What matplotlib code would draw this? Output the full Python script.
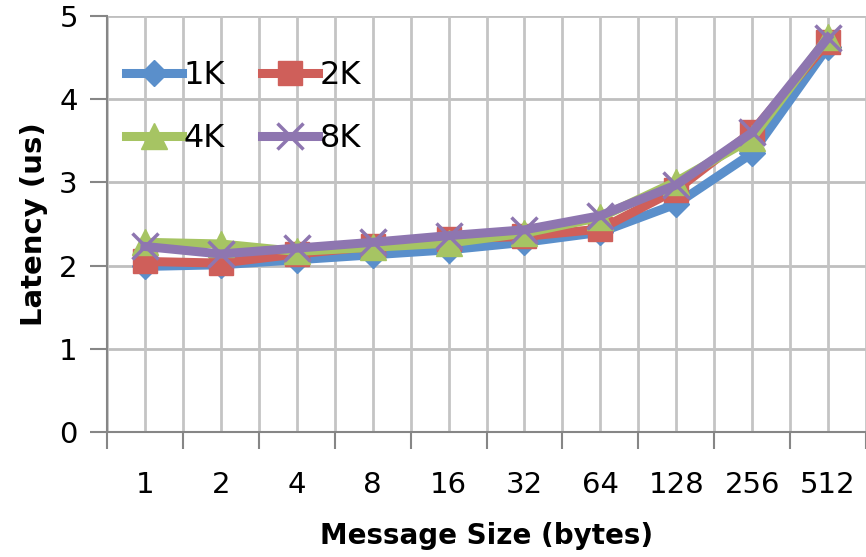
import numpy as np
import matplotlib.pyplot as plt
from matplotlib.ticker import MultipleLocator, FixedLocator

sizes = ['1', '2', '4', '8', '16', '32', '64', '128', '256', '512']
lat_1k = [1.99, 2.01, 2.07, 2.13, 2.19, 2.28, 2.40, 2.74, 3.35, 4.63]
lat_2k = [2.05, 2.03, 2.14, 2.23, 2.32, 2.35, 2.44, 2.91, 3.61, 4.69]
lat_4k = [2.28, 2.26, 2.17, 2.22, 2.27, 2.39, 2.58, 3.01, 3.53, 4.75]
lat_8k = [2.23, 2.14, 2.21, 2.28, 2.36, 2.43, 2.60, 2.97, 3.60, 4.74]

fig = plt.figure(figsize=(8.66, 5.57), dpi=100)
ax = fig.add_axes([107/866, 1-432/557, 759/866, 416/557])

x = np.arange(len(sizes))
l1, = ax.plot(x, lat_1k, color='#5A8FCB', lw=6.5, marker='D', ms=13, mec='#5A8FCB', label='1K', zorder=3)
l2, = ax.plot(x, lat_2k, color='#CF5F5A', lw=6.5, marker='s', ms=17, mec='#CF5F5A', label='2K', zorder=4)
l4, = ax.plot(x, lat_4k, color='#A6C463', lw=6.5, marker='^', ms=19, mec='#A6C463', label='4K', zorder=5)
l8, = ax.plot(x, lat_8k, color='#8E76B0', lw=6.5, marker='x', ms=19, mew=2.5, label='8K', zorder=6)

ax.set_xlim(-0.5, len(sizes) - 0.5)
ax.set_ylim(0, 5)
ax.set_xticks(x)
ax.set_xticklabels(sizes)
ax.xaxis.set_minor_locator(FixedLocator(np.arange(-0.5, len(sizes), 1.0)))
ax.yaxis.set_major_locator(MultipleLocator(1))

ax.tick_params(axis='x', which='major', length=0, pad=28, labelsize=21)
ax.tick_params(axis='x', which='minor', length=12, width=1.5, color='#868686', direction='out')
ax.tick_params(axis='y', length=12, width=1.5, color='#868686', pad=9, labelsize=21)

for xx in np.arange(-0.5, len(sizes), 0.5):
    ax.axvline(xx, color='#C4C4C4', lw=2, zorder=1)
ax.grid(axis='y', color='#BFBFBF', lw=2, zorder=1)
ax.set_axisbelow(True)

for s in ['top', 'right']:
    ax.spines[s].set_visible(False)
for s in ['left', 'bottom']:
    ax.spines[s].set_color('#868686')
    ax.spines[s].set_linewidth(1.5)

ax.set_xlabel('Message Size (bytes)', fontsize=20, fontweight='bold', labelpad=17)
ax.set_ylabel('Latency (us)', fontsize=21, fontweight='bold', labelpad=8)

ax.legend([l1, l4, l2, l8], ['1K', '4K', '2K', '8K'], ncol=2, loc='upper left',
          bbox_to_anchor=(0.0, 0.94), frameon=False,
          fontsize=23, handlelength=1.75, handletextpad=0.05, columnspacing=1.15,
          labelspacing=1.0, borderaxespad=0.2)

fig.savefig('out.png', dpi=100)
